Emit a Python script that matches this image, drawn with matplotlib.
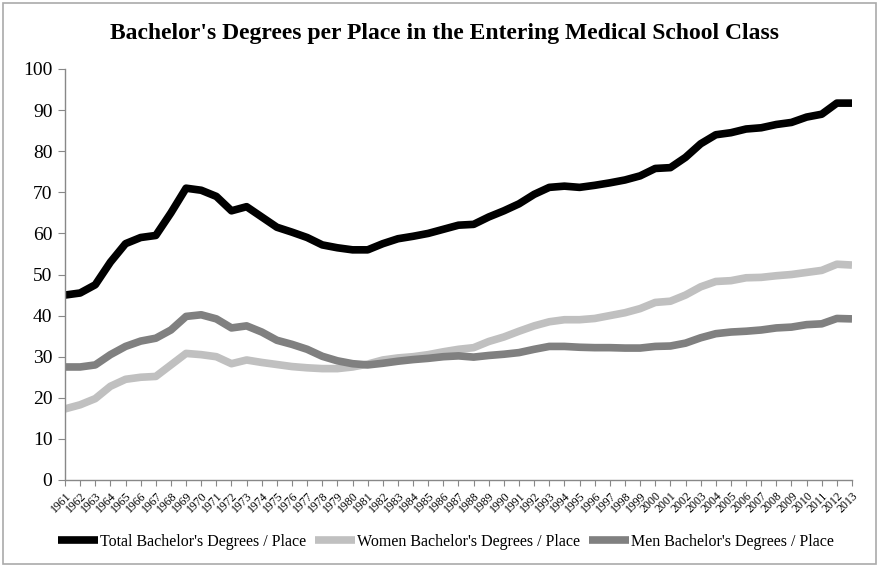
import numpy as np
import matplotlib.pyplot as plt
from matplotlib.patches import Rectangle

# years and series
years = list(range(1961, 2014))

total = [45, 45.5, 47.5, 53, 57.5, 59, 59.5, 65, 71, 70.5,
         69, 65.5, 66.5, 64, 61.5, 60.3, 59, 57.2, 56.5, 56,
         56, 57.5, 58.7, 59.3, 60, 61, 62, 62.2, 64, 65.5,
         67.2, 69.5, 71.2, 71.5, 71.2, 71.7, 72.3, 73, 74, 75.8,
         76, 78.5, 81.8, 84, 84.5, 85.4, 85.7, 86.5, 87, 88.3,
         89, 91.7, 91.7]

women = [17.3, 18.3, 19.8, 22.8, 24.5, 25, 25.2, 28, 30.8, 30.5,
         30, 28.3, 29.2, 28.6, 28.1, 27.6, 27.3, 27.1, 27.1, 27.5,
         28.2, 29.2, 29.7, 30, 30.5, 31.2, 31.8, 32.2, 33.7, 34.8,
         36.2, 37.5, 38.5, 39, 39, 39.3, 40, 40.7, 41.7, 43.2,
         43.5, 45, 47, 48.3, 48.5, 49.2, 49.3, 49.7, 50, 50.5,
         51, 52.5, 52.3]

men = [27.5, 27.5, 28, 30.5, 32.5, 33.8, 34.5, 36.5, 39.8, 40.2,
       39.2, 37, 37.5, 36, 34, 33, 31.8, 30.1, 29, 28.3,
       28, 28.4, 28.9, 29.3, 29.6, 30, 30.2, 29.9, 30.3, 30.6,
       31, 31.8, 32.5, 32.5, 32.3, 32.2, 32.2, 32.1, 32.1, 32.5,
       32.6, 33.3, 34.6, 35.6, 36, 36.2, 36.5, 37, 37.2, 37.8,
       38, 39.3, 39.2]

labels = ["Total Bachelor's Degrees / Place",
          "Women Bachelor's Degrees / Place",
          "Men Bachelor's Degrees / Place"]
colors = ['#000000', '#c0c0c0', '#808080']

plt.rcParams['font.family'] = ['Liberation Serif', 'DejaVu Serif']

fig = plt.figure(figsize=(8.79, 5.67), dpi=100)
ax = fig.add_axes([65/879, 87/567, (852-65)/879, (480-69)/567])

for series, lab, col in zip([total, women, men], labels, colors):
    ax.plot(years, series, color=col, linewidth=5.5, label=lab,
            solid_joinstyle='round', solid_capstyle='butt')

ax.set_xlim(1961, 2013)
ax.set_ylim(0, 100)
ax.set_yticks(range(0, 101, 10))
ax.set_xticks(years)
ax.set_xticklabels([str(y) for y in years], rotation=45, ha='right',
                   rotation_mode='anchor', fontsize=8.5)
ax.tick_params(axis='y', labelsize=14, length=5, color='#888888', pad=4)
ax.tick_params(axis='x', length=4, color='#888888', pad=3)

for s in ['top', 'right']:
    ax.spines[s].set_visible(False)
for s in ['left', 'bottom']:
    ax.spines[s].set_color('#888888')
    ax.spines[s].set_linewidth(1)

fig.text(445/879, 1 - 33/567, "Bachelor's Degrees per Place in the Entering Medical School Class",
         ha='center', va='center', fontsize=17, fontweight='bold')

fig.legend(loc='center', bbox_to_anchor=(446/879, 1 - 542/567), ncol=3,
           frameon=False, fontsize=11.5, handlelength=2.5, handletextpad=0.1,
           columnspacing=0.6)

# light frame around the whole picture
fig.patches.append(Rectangle((3/879, 3/567), 1 - 6/879, 1 - 6/567,
                             transform=fig.transFigure, fill=False,
                             edgecolor='#aaaaaa', linewidth=1.2))

fig.savefig('out.png', dpi=100)
